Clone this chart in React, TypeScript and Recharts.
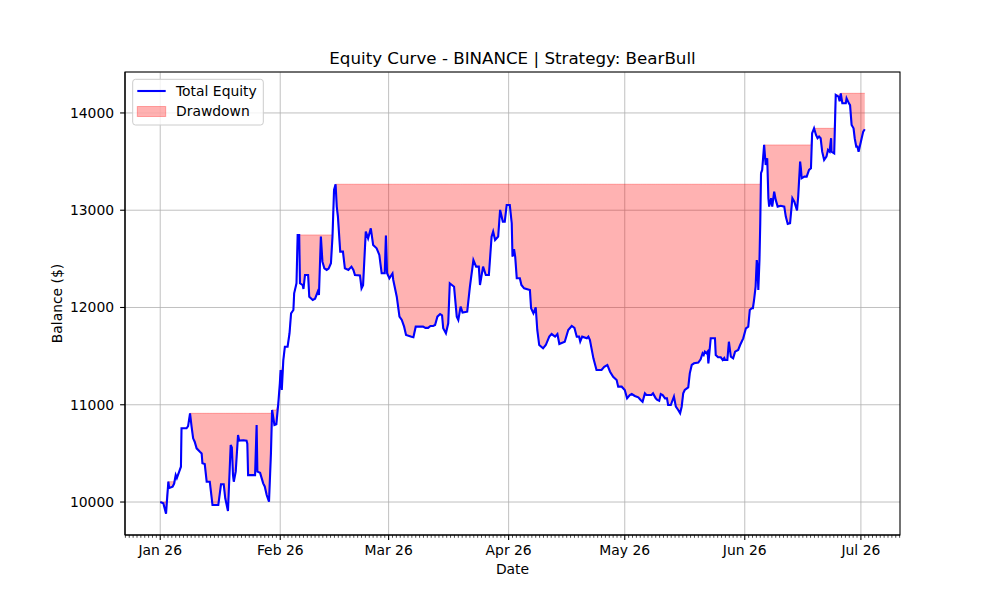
import React from "react";
import {
  Area,
  CartesianGrid,
  ComposedChart,
  Label,
  Line,
  ReferenceArea,
  XAxis,
  YAxis,
} from "recharts";

// day offset from Jan 1 2026
const days = [
  0, 0.8, 1.5, 2.1, 2.3, 3.2, 3.6, 4.0, 4.3, 4.9, 5.35, 5.5, 6.8, 7.2, 7.7, 8.1, 8.5, 8.9, 9.4, 10.25,
  10.7, 10.9, 11.5, 12.0, 12.8, 13.1, 13.5, 15.0, 15.7, 16.4, 16.8, 17.5, 18.2, 18.5, 18.8, 19.0, 19.5, 20.1, 20.4, 21.5,
  22.3, 22.5, 22.7, 24.5, 24.9, 25.1, 25.8, 26.6, 27.0, 27.5, 28.1, 28.6, 28.9, 29.5, 30.0, 30.5, 30.9, 31.1, 31.4, 31.8,
  32.2, 32.9, 33.4, 33.8, 34.4, 34.6, 35.2, 35.5, 35.9, 36.1, 36.8, 37.0, 37.4, 38.2, 38.5, 39.4, 40.0, 40.7, 41.0, 41.5,
  41.9, 42.4, 43.0, 43.5, 44.1, 44.5, 44.9, 45.3, 45.6, 45.9, 46.5, 47.2, 47.7, 48.6, 49.4, 49.9, 50.3, 51.6, 52.0, 52.4,
  53.1, 53.7, 54.4, 55.0, 55.9, 56.6, 57.2, 58.0, 58.3, 58.6, 59.2, 60.0, 60.2, 61.1, 61.8, 62.4, 63.0, 63.5, 64.9, 65.4,
  66.0, 67.9, 68.5, 69.2, 69.8, 70.5, 71.0, 71.6, 72.3, 72.8, 73.1, 73.8, 74.4, 74.8, 75.9, 76.6, 77.0, 77.6, 78.1, 79.3,
  80.0, 80.9, 81.6, 82.3, 82.6, 83.4, 84.1, 84.9, 85.6, 86.0, 86.5, 87.3, 87.8, 88.5, 89.0, 89.5, 90.3, 90.8, 91.0, 91.4,
  91.7, 92.1, 92.9, 93.3, 94.0, 95.5, 95.8, 96.4, 97.0, 97.4, 97.9, 98.9, 99.6, 100.5, 101.1, 102.0, 102.6, 103.1, 104.5, 105.4,
  106.3, 107.0, 107.6, 108.2, 108.5, 109.0, 110.2, 110.6, 111.0, 111.9, 112.7, 114.0, 114.7, 115.5, 116.2, 117.0, 117.9, 118.3, 119.2, 120.0,
  120.6, 121.3, 121.8, 122.6, 123.5, 124.1, 124.6, 125.2, 125.6, 126.9, 127.3, 128.0, 128.4, 128.9, 129.3, 129.8, 130.4, 130.9, 131.2, 131.9,
  132.2, 132.7, 133.2, 133.8, 134.3, 134.7, 135.1, 135.5, 136.4, 136.8, 137.3, 137.9, 139.0, 139.6, 140.1, 140.4, 140.7, 141.1, 141.4, 141.6,
  142.2, 143.3, 143.5, 144.1, 144.8, 145.3, 145.7, 145.9, 146.5, 146.9, 147.4, 148.0, 148.5, 149.3, 149.8, 150.6, 151.3, 151.9, 152.3, 152.8,
  153.1, 153.4, 153.8, 154.1, 154.3, 154.5, 154.8, 155.0, 155.2, 155.5, 156.0, 156.4, 156.8, 157.1, 157.3, 157.8, 158.1, 158.6, 159.0, 159.5,
  160.3, 161.2, 161.6, 162.1, 162.7, 163.3, 163.8, 164.2, 164.5, 164.8, 165.3, 165.5, 165.7, 166.4, 167.0, 167.6, 168.1, 168.4, 168.9, 169.4,
  169.8, 170.2, 170.6, 171.0, 171.5, 172.1, 172.5, 172.9, 173.3, 173.4, 174.1, 174.5, 175.2, 175.5, 175.8, 176.2, 177.1, 177.3, 177.9, 178.2,
  178.6, 179.1, 179.4, 179.8, 180.1, 180.4, 180.8, 181.2, 181.6, 182.0,
];

const equity = [
  10000, 9987, 9880, 10209, 10144, 10158, 10190, 10277, 10247, 10312, 10363, 10758, 10758, 10780, 10912, 10774, 10655, 10620, 10552, 10517,
  10500, 10398, 10390, 10209, 10209, 10106, 9969, 9969, 10182, 10182, 10038, 9907, 10586, 10560, 10277, 10209, 10312, 10689, 10631, 10635,
  10631, 10600, 10277, 10277, 10792, 10312, 10300, 10192, 10160, 10072, 10003, 10500, 10946, 10792, 10800, 11015, 11220, 11357, 11152, 11460,
  11597, 11597, 11735, 11940, 11974, 12146, 12249, 12746, 12746, 12249, 12231, 12190, 12334, 12334, 12111, 12077, 12090, 12163, 12130, 12729,
  12471, 12403, 12386, 12400, 12455, 12729, 13209, 13267, 13037, 12934, 12574, 12574, 12403, 12386, 12420, 12386, 12334, 12330, 12197, 12230,
  12780, 12711, 12814, 12643, 12609, 12540, 12352, 12352, 12740, 12352, 12300, 12350, 12283, 12111, 11906, 11872, 11803, 11717, 11700, 11695,
  11803, 11803, 11790, 11790, 11810, 11810, 11820, 11906, 11933, 11920, 11786, 11735, 11838, 12249, 12214, 11906, 11872, 12009, 11947, 11957,
  12214, 12488, 12420, 12420, 12231, 12420, 12334, 12334, 12729, 12780, 12694, 12729, 13003, 12883, 12883, 13054, 13054, 12866, 12523, 12600,
  12520, 12300, 12300, 12231, 12197, 12180, 11992, 11940, 12002, 11769, 11614, 11580, 11614, 11700, 11727, 11700, 11727, 11625, 11648, 11769,
  11810, 11790, 11700, 11700, 11650, 11700, 11683, 11700, 11666, 11477, 11357, 11357, 11391, 11409, 11340, 11288, 11254, 11186, 11186, 11152,
  11066, 11100, 11110, 11090, 11076, 11049, 11031, 11117, 11100, 11100, 11117, 11066, 11049, 11040, 11110, 11100, 11066, 11066, 10997, 10997,
  11031, 11083, 10980, 10946, 10912, 10980, 11117, 11152, 11179, 11323, 11409, 11426, 11433, 11467, 11529, 11512, 11546, 11530, 11546, 11426,
  11683, 11683, 11512, 11488, 11488, 11460, 11480, 11460, 11460, 11648, 11494, 11477, 11546, 11563, 11614, 11683, 11786, 11803, 11974, 11992,
  11992, 12077, 12214, 12488, 12420, 12180, 12488, 12866, 13380, 13414, 13671, 13465, 13534, 13123, 13037, 13123, 13037, 13191, 13106, 13037,
  13045, 13037, 12934, 12859, 12866, 13123, 13088, 13037, 12997, 13140, 13500, 13431, 13328, 13345, 13345, 13414, 13431, 13791, 13842, 13774,
  13740, 13757, 13740, 13602, 13517, 13551, 13620, 13602, 13740, 13602, 13585, 14185, 14168, 14120, 14202, 14099, 14099, 14151, 14099, 14080,
  13877, 13842, 13740, 13654, 13654, 13602, 13671, 13740, 13808, 13832,
];

const monthTicks = [0, 31, 59, 90, 120, 151, 181];
const monthLabels = ["Jan 26", "Feb 26", "Mar 26", "Apr 26", "May 26", "Jun 26", "Jul 26"];
const balanceTicks = [10000, 11000, 12000, 13000, 14000];

const X_DOMAIN: [number, number] = [-9.1, 191.1];
const Y_DOMAIN: [number, number] = [9661, 14421];
const FONT = "DejaVu Sans";

let peak = -Infinity;
const rows = days.map((d, i) => {
  peak = Math.max(peak, equity[i]);
  return { day: d, equity: equity[i], drawdown: [equity[i], peak] };
});

// one minor tick per day
const dayTicks: number[] = [];
for (let d = -9; d <= 191; d++) dayTicks.push(d);

function DateTick(props: any) {
  const { x, y, payload } = props;
  const idx = monthTicks.indexOf(payload.value);
  const major = idx >= 0;
  return (
    <g>
      <line
        x1={x}
        x2={x}
        y1={y}
        y2={y + (major ? 4.9 : 2.8)}
        stroke="#000"
        strokeWidth={major ? 1.1 : 0.7}
      />
      {major && (
        <text x={x} y={y + 19.5} textAnchor="middle" fontSize={13.9} fontFamily={FONT} fill="#000">
          {monthLabels[idx]}
        </text>
      )}
    </g>
  );
}

export default function App() {
  return (
    <div
      style={{
        position: "absolute",
        left: 0,
        top: 0,
        width: 1000,
        height: 600,
        background: "#fff",
        fontFamily: FONT,
      }}
    >
      <ComposedChart
        width={1000}
        height={600}
        data={rows}
        margin={{ top: 72, right: 100, bottom: 0, left: 0 }}
      >
        <CartesianGrid stroke="#b0b0b0" strokeWidth={0.8} verticalValues={monthTicks} />
        <XAxis
          dataKey="day"
          type="number"
          domain={X_DOMAIN}
          allowDataOverflow
          ticks={dayTicks}
          interval={0}
          tickLine={false}
          tickSize={0}
          tickMargin={0}
          tick={<DateTick />}
          axisLine={{ stroke: "#000", strokeWidth: 1.1 }}
          height={65}
        >
          <Label
            content={({ viewBox }: any) => (
              <text
                x={viewBox.x + viewBox.width / 2}
                y={viewBox.y + 39}
                textAnchor="middle"
                fontSize={13.9}
                fontFamily={FONT}
                fill="#000"
              >
                Date
              </text>
            )}
          />
        </XAxis>
        <YAxis
          type="number"
          domain={Y_DOMAIN}
          allowDataOverflow
          ticks={balanceTicks}
          interval={0}
          width={125}
          tickSize={4.9}
          tickMargin={6}
          tick={{ fontSize: 13.9, fill: "#000", fontFamily: FONT }}
          tickLine={{ stroke: "#000", strokeWidth: 1.1 }}
          axisLine={{ stroke: "#000", strokeWidth: 1.1 }}
        >
          <Label
            content={({ viewBox }: any) => {
              const cx = viewBox.x + 62;
              const cy = viewBox.y + viewBox.height / 2;
              return (
                <text
                  x={cx}
                  y={cy}
                  transform={`rotate(-90 ${cx} ${cy})`}
                  textAnchor="middle"
                  fontSize={13.9}
                  fontFamily={FONT}
                  fill="#000"
                >
                  Balance ($)
                </text>
              );
            }}
          />
        </YAxis>
        <Area
          type="linear"
          dataKey="drawdown"
          fill="#ff0000"
          fillOpacity={0.3}
          stroke="#ff0000"
          strokeOpacity={0.3}
          strokeWidth={1}
          activeDot={false}
          isAnimationActive={false}
        />
        <Line
          type="linear"
          dataKey="equity"
          stroke="#0000ff"
          strokeWidth={2.1}
          dot={false}
          activeDot={false}
          isAnimationActive={false}
        />
        <ReferenceArea
          x1={X_DOMAIN[0]}
          x2={X_DOMAIN[1]}
          y1={Y_DOMAIN[0]}
          y2={Y_DOMAIN[1]}
          fill="none"
          fillOpacity={0}
          stroke="#000"
          strokeWidth={1.1}
          ifOverflow="visible"
        />
      </ComposedChart>
      <svg
        width={1000}
        height={600}
        style={{ position: "absolute", left: 0, top: 0, pointerEvents: "none" }}
      >
        <text x={512.5} y={64} textAnchor="middle" fontSize={16.7} fontFamily={FONT} fill="#000">
          Equity Curve - BINANCE | Strategy: BearBull
        </text>
        <rect
          x={132.7}
          y={79.3}
          width={130.6}
          height={45.7}
          rx={2.8}
          fill="#fff"
          fillOpacity={0.8}
          stroke="#cccccc"
          strokeWidth={1}
        />
        <line x1={137.3} x2={165.7} y1={91} y2={91} stroke="#0000ff" strokeWidth={2.1} />
        <text x={176} y={96} fontSize={13.9} fontFamily={FONT} fill="#000">
          Total Equity
        </text>
        <rect
          x={137.3}
          y={106.5}
          width={28.4}
          height={10}
          fill="#ff0000"
          fillOpacity={0.3}
          stroke="#ff0000"
          strokeOpacity={0.3}
        />
        <text x={176} y={116} fontSize={13.9} fontFamily={FONT} fill="#000">
          Drawdown
        </text>
      </svg>
    </div>
  );
}
